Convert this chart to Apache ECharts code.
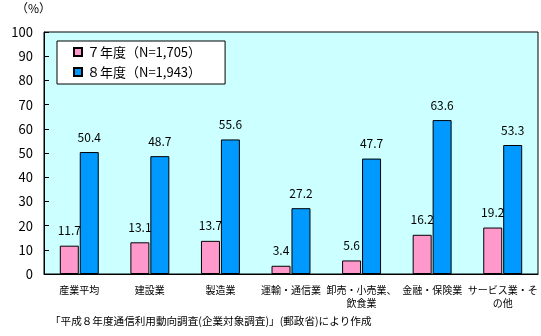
<!DOCTYPE html>
<html><head><meta charset="utf-8">
<script src="https://cdn.jsdelivr.net/npm/echarts@6/dist/echarts.min.js"></script>
<style>html,body{margin:0;padding:0;background:#fff}#c{width:541px;height:336px}</style>
</head><body><div id="c"></div>
<script>
const categories = ['産業平均','建設業','製造業','運輸・通信業','卸売・小売業、\n飲食業','金融・保険業','サービス業・そ\nの他'];
const seriesNames = ['７年度（N=1,705）','８年度（N=1,943）'];
const values7 = [11.7, 13.1, 13.7, 3.4, 5.6, 16.2, 19.2];
const values8 = [50.4, 48.7, 55.6, 27.2, 47.7, 63.6, 53.3];
const yTicks = {min: 0, max: 100, interval: 10};
const unitLabel = '（%）';
const sourceNote = '「平成８年度通信利用動向調査(企業対象調査)」(郵政省)により作成';

const FONT = '"Noto Sans CJK JP", "Noto Sans", sans-serif';
const chart = echarts.init(document.getElementById('c'), null, {renderer: 'canvas'});
const labelCfg = {show: true, position: 'top', distance: 9, color: '#000', fontSize: 12, fontFamily: FONT};
chart.setOption({
  backgroundColor: '#fff',
  animation: false,
  textStyle: {fontFamily: FONT},
  grid: {left: 44, right: 3, top: 32, bottom: 62, show: true, backgroundColor: '#CCFFFF', borderColor: '#000', borderWidth: 1},
  legend: {
    orient: 'vertical', left: 57, top: 41,
    backgroundColor: '#fff', borderColor: '#000', borderWidth: 1,
    padding: [4, 24, 5, 16], itemGap: 6, itemWidth: 8, itemHeight: 8,
    icon: 'rect',
    textStyle: {fontSize: 13, lineHeight: 14, color: '#000', fontFamily: FONT},
    data: seriesNames
  },
  graphic: [
    {type: 'text', left: 16, top: 2, style: {text: unitLabel, fontSize: 12, fontFamily: FONT, fill: '#000'}},
    {type: 'text', left: 50, top: 316, style: {text: sourceNote, fontSize: 10.6, fontFamily: FONT, fill: '#000'}}
  ],
  xAxis: {
    type: 'category', data: categories,
    axisLine: {lineStyle: {color: '#000', width: 1}},
    axisTick: {inside: true, length: 5, lineStyle: {color: '#000'}},
    axisLabel: {color: '#000', fontSize: 10, lineHeight: 13, margin: 10, interval: 0, fontFamily: FONT}
  },
  yAxis: {
    type: 'value', min: yTicks.min, max: yTicks.max, interval: yTicks.interval,
    axisLine: {show: true, lineStyle: {color: '#000', width: 1}},
    axisTick: {show: true, inside: true, length: 5, lineStyle: {color: '#000'}},
    axisLabel: {color: '#000', fontSize: 13, margin: 11, fontFamily: FONT},
    splitLine: {show: false}
  },
  series: [
    {name: seriesNames[0], type: 'bar', data: values7, barWidth: 19, barGap: '5%',
     itemStyle: {color: '#FF99CC', borderColor: '#000', borderWidth: 1}, label: labelCfg},
    {name: seriesNames[1], type: 'bar', data: values8, barWidth: 19, barGap: '5%',
     itemStyle: {color: '#0099FF', borderColor: '#000', borderWidth: 1}, label: labelCfg}
  ]
});
</script></body></html>
